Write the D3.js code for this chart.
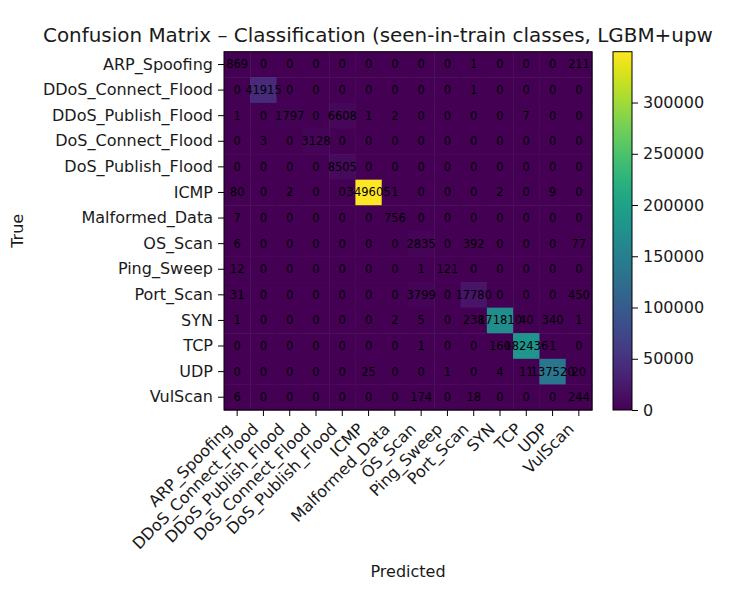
<!DOCTYPE html>
<html>
<head>
<meta charset="utf-8">
<script src="https://cdn.jsdelivr.net/npm/d3@7"></script>
<style>
  html, body { margin: 0; padding: 0; background: #fff; }
  svg { display: block; font-family: "DejaVu Sans", sans-serif; }
</style>
</head>
<body>
<svg id="chart" width="738" height="591"></svg>
<script>
const classes = ["ARP_Spoofing", "DDoS_Connect_Flood", "DDoS_Publish_Flood", "DoS_Connect_Flood",
  "DoS_Publish_Flood", "ICMP", "Malformed_Data", "OS_Scan", "Ping_Sweep", "Port_Scan",
  "SYN", "TCP", "UDP", "VulScan"];

const rowARP        = [869, 0, 0, 0, 0, 0, 0, 0, 0, 1, 0, 0, 0, 211];
const rowDDoSConn   = [0, 41915, 0, 0, 0, 0, 0, 0, 0, 1, 0, 0, 0, 0];
const rowDDoSPub    = [1, 0, 1797, 0, 6608, 1, 2, 0, 0, 0, 0, 7, 0, 0];
const rowDoSConn    = [0, 3, 0, 3128, 0, 0, 0, 0, 0, 0, 0, 0, 0, 0];
const rowDoSPub     = [0, 0, 0, 0, 8505, 0, 0, 0, 0, 0, 0, 0, 0, 0];
const rowICMP       = [80, 0, 2, 0, 0, 349605, 1, 0, 0, 0, 2, 0, 9, 0];
const rowMalformed  = [7, 0, 0, 0, 0, 0, 756, 0, 0, 0, 0, 0, 0, 0];
const rowOSScan     = [6, 0, 0, 0, 0, 0, 0, 2835, 0, 392, 0, 0, 0, 77];
const rowPingSweep  = [12, 0, 0, 0, 0, 0, 0, 1, 121, 0, 0, 0, 0, 0];
const rowPortScan   = [31, 0, 0, 0, 0, 0, 0, 3799, 0, 17780, 0, 0, 0, 450];
const rowSYN        = [1, 0, 0, 0, 0, 0, 2, 5, 0, 238, 171810, 40, 340, 1];
const rowTCP        = [0, 0, 0, 0, 0, 0, 0, 1, 0, 0, 160, 182436, 1, 0];
const rowUDP        = [0, 0, 0, 0, 0, 25, 0, 0, 1, 0, 4, 11, 137520, 20];
const rowVulScan    = [6, 0, 0, 0, 0, 0, 0, 174, 0, 18, 0, 0, 0, 244];

const counts = [rowARP, rowDDoSConn, rowDDoSPub, rowDoSConn, rowDoSPub, rowICMP, rowMalformed,
  rowOSScan, rowPingSweep, rowPortScan, rowSYN, rowTCP, rowUDP, rowVulScan];

const colorbarTicks = [0, 50000, 100000, 150000, 200000, 250000, 300000];

const titleText = "Confusion Matrix \u2013 Classification (seen-in-train classes, LGBM+upw";
const xLabel = "Predicted";
const yLabel = "True";

// ---- layout ----
const svg = d3.select("#chart");
const L = 224, R = 592, T = 51.7, B = 410;
const textColor = "#1a1a1a";

const idx = d3.range(classes.length);
const x = d3.scaleBand().domain(idx).range([L, R]);
const y = d3.scaleBand().domain(idx).range([T, B]);
const vmax = d3.max(counts.flat());
const color = d3.scaleSequential(d3.interpolateViridis).domain([0, vmax]);

const cells = [];
counts.forEach((row, i) => row.forEach((v, j) => cells.push({ i, j, v })));

svg.append("g").selectAll("rect").data(cells).join("rect")
  .attr("x", d => x(d.j))
  .attr("y", d => y(d.i))
  .attr("width", x.bandwidth() + 0.5)
  .attr("height", y.bandwidth() + 0.5)
  .attr("fill", d => color(d.v));

svg.append("g").selectAll("text").data(cells).join("text")
  .attr("x", d => x(d.j) + x.bandwidth() / 2)
  .attr("y", d => y(d.i) + y.bandwidth() / 2)
  .attr("text-anchor", "middle")
  .attr("dominant-baseline", "central")
  .attr("font-size", "11.5px")
  .attr("fill", "#000")
  .text(d => d.v);

svg.append("rect")
  .attr("x", L).attr("y", T).attr("width", R - L).attr("height", B - T)
  .attr("fill", "none").attr("stroke", "#000").attr("stroke-width", 1);

// y axis
const yAxis = svg.append("g").attr("transform", `translate(${L},0)`)
  .call(d3.axisLeft(y).tickSize(6).tickPadding(5).tickFormat(i => classes[i]));
yAxis.select(".domain").remove();
yAxis.selectAll("text").attr("font-size", "16px").attr("fill", textColor)
  .attr("font-family", "DejaVu Sans");
yAxis.selectAll("line").attr("stroke", "#000");

// x axis
const xAxis = svg.append("g").attr("transform", `translate(0,${B})`)
  .call(d3.axisBottom(x).tickSize(6).tickFormat(i => classes[i]));
xAxis.select(".domain").remove();
xAxis.selectAll("line").attr("stroke", "#000");
xAxis.selectAll("text")
  .attr("font-size", "16px").attr("fill", textColor).attr("font-family", "DejaVu Sans")
  .attr("text-anchor", "end")
  .attr("dy", null)
  .attr("y", null)
  .attr("transform", "translate(-4,20) rotate(-45)");

// colorbar
const CL = 613, CR = 632;
const cScale = d3.scaleLinear().domain([0, vmax]).range([B, T]);
const defs = svg.append("defs");
const grad = defs.append("linearGradient").attr("id", "vir")
  .attr("x1", 0).attr("y1", 1).attr("x2", 0).attr("y2", 0);
d3.range(0, 1.0001, 0.05).forEach(t => {
  grad.append("stop").attr("offset", t).attr("stop-color", d3.interpolateViridis(t));
});
svg.append("rect").attr("x", CL).attr("y", T).attr("width", CR - CL).attr("height", B - T)
  .attr("fill", "url(#vir)").attr("stroke", "#000").attr("stroke-width", 1);
const cAxis = svg.append("g").attr("transform", `translate(${CR},0)`)
  .call(d3.axisRight(cScale).tickValues(colorbarTicks).tickSize(6).tickPadding(5).tickFormat(d3.format("d")));
cAxis.select(".domain").remove();
cAxis.selectAll("line").attr("stroke", "#000");
cAxis.selectAll("text").attr("font-size", "16px").attr("fill", textColor)
  .attr("font-family", "DejaVu Sans");

// title
const title = svg.append("text")
  .attr("x", 43).attr("y", 42)
  .attr("font-size", "19px").attr("fill", textColor)
  .text(titleText);
const tw = title.node().getComputedTextLength();
title.attr("font-size", (19 * 670 / tw).toFixed(2) + "px");

// axis labels
svg.append("text").attr("x", (L + R) / 2).attr("y", 577)
  .attr("text-anchor", "middle").attr("font-size", "16px").attr("fill", textColor)
  .text(xLabel);
svg.append("text")
  .attr("transform", `translate(23,${(T + B) / 2}) rotate(-90)`)
  .attr("text-anchor", "middle").attr("font-size", "16px").attr("fill", textColor)
  .text(yLabel);
</script>
</body>
</html>
